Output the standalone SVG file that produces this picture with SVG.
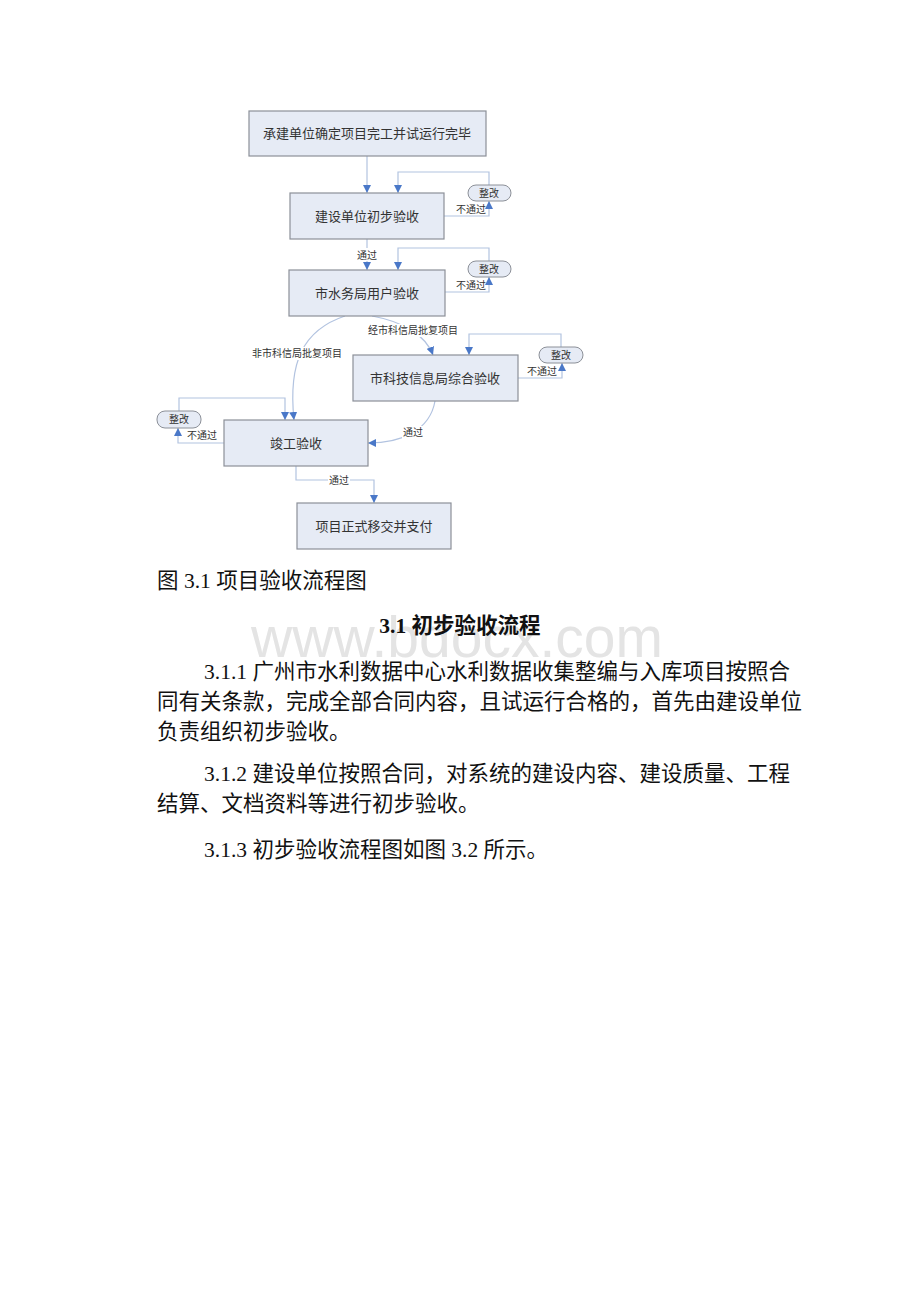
<svg xmlns="http://www.w3.org/2000/svg" width="920" height="1302" viewBox="0 0 920 1302">
<defs>
<marker id="arr" viewBox="0 0 10 10" refX="10" refY="5" markerWidth="8" markerHeight="8" markerUnits="userSpaceOnUse" orient="auto">
<path d="M0,0 L10,5 L0,10 z" fill="#4a78c8"/>
</marker>
</defs>
<style>
.box{fill:#e6ebf5;stroke:#8c9098;stroke-width:1.2}
.pill{fill:#e6ebf5;stroke:#8c9098;stroke-width:1}
.bt{font-family:"Liberation Serif","Noto Sans CJK SC",serif;font-size:13px;fill:#333;text-anchor:middle;dominant-baseline:central}
.sm{font-family:"Liberation Serif","Noto Sans CJK SC",serif;font-size:10px;fill:#333;text-anchor:middle;dominant-baseline:central}
.ln{fill:none;stroke:#b2c3e0;stroke-width:1.2}
.lbg{fill:#ffffff}
.body{font-family:"Liberation Serif","Noto Sans CJK SC",serif;font-size:21.5px;fill:#111}
</style>
<rect width="920" height="1302" fill="#ffffff"/>

<g id="connectors">
<path class="ln" d="M367,156 V193" marker-end="url(#arr)"/>
<path class="ln" d="M444,216 H489 V201" marker-end="url(#arr)"/>
<path class="ln" d="M489,185 V172 H398 V193" marker-end="url(#arr)"/>
<path class="ln" d="M367,239 V270" marker-end="url(#arr)"/>
<path class="ln" d="M445,292 H489 V277" marker-end="url(#arr)"/>
<path class="ln" d="M489,261 V248 H398 V270" marker-end="url(#arr)"/>
<path class="ln" d="M372,316 C405,322 426,336 433,355" marker-end="url(#arr)"/>
<path class="ln" d="M345,316 C303,330 288,362 294,420" marker-end="url(#arr)"/>
<path class="ln" d="M518,378 H562 V363" marker-end="url(#arr)"/>
<path class="ln" d="M561,347 V334 H469 V355" marker-end="url(#arr)"/>
<path class="ln" d="M435,401 C430,430 402,443 368,443" marker-end="url(#arr)"/>
<path class="ln" d="M224,443 H178 V428" marker-end="url(#arr)"/>
<path class="ln" d="M179,411 V398 H285 V420" marker-end="url(#arr)"/>
<path class="ln" d="M296,466 V480 H374 V503" marker-end="url(#arr)"/>
<rect class="lbg" x="356" y="248" width="22" height="13"/>
<text class="sm" x="367" y="255">通过</text>
<text class="sm" x="471" y="209">不通过</text>
<text class="sm" x="471" y="285">不通过</text>
<rect class="lbg" x="366" y="324" width="94" height="13"/>
<text class="sm" x="413" y="330">经市科信局批复项目</text>
<rect class="lbg" x="250" y="347" width="94" height="13"/>
<text class="sm" x="297" y="353">非市科信局批复项目</text>
<text class="sm" x="542" y="371">不通过</text>
<rect class="lbg" x="402" y="426" width="22" height="13"/>
<text class="sm" x="413" y="432">通过</text>
<text class="sm" x="202" y="435">不通过</text>
<rect class="lbg" x="328" y="474" width="22" height="13"/>
<text class="sm" x="339" y="480">通过</text>
</g>

<g id="n1"><rect class="box" x="249" y="111" width="237" height="45"/><text class="bt" x="367" y="133">承建单位确定项目完工并试运行完毕</text></g>
<g id="n2"><rect class="box" x="290" y="193" width="154" height="46"/><text class="bt" x="367" y="216">建设单位初步验收</text></g>
<g id="r1"><rect class="pill" x="468" y="185" width="43" height="16" rx="8"/><text class="sm" x="489" y="193">整改</text></g>
<g id="n3"><rect class="box" x="289" y="270" width="156" height="46"/><text class="bt" x="367" y="293">市水务局用户验收</text></g>
<g id="r2"><rect class="pill" x="468" y="261" width="43" height="16" rx="8"/><text class="sm" x="489" y="269">整改</text></g>
<g id="n4"><rect class="box" x="353" y="355" width="165" height="46"/><text class="bt" x="435" y="378">市科技信息局综合验收</text></g>
<g id="r3"><rect class="pill" x="539" y="347" width="44" height="16" rx="8"/><text class="sm" x="561" y="355">整改</text></g>
<g id="n5"><rect class="box" x="224" y="420" width="144" height="46"/><text class="bt" x="296" y="443">竣工验收</text></g>
<g id="r4"><rect class="pill" x="157" y="411" width="44" height="17" rx="8"/><text class="sm" x="179" y="419">整改</text></g>
<g id="n6"><rect class="box" x="297" y="503" width="154" height="46"/><text class="bt" x="374" y="526">项目正式移交并支付</text></g>

<g id="text">
<text x="157" y="588" class="body">图 3.1 项目验收流程图</text>
<text x="457" y="657" font-family="Liberation Sans, Arial, sans-serif" font-size="57" fill="#e4e4e4" text-anchor="middle">www.bdocx.com</text>
<text x="460" y="633" class="body" font-weight="bold" text-anchor="middle">3.1 初步验收流程</text>
<text x="204" y="679" class="body">3.1.1 广州市水利数据中心水利数据收集整编与入库项目按照合</text>
<text x="157" y="709" class="body">同有关条款，完成全部合同内容，且试运行合格的，首先由建设单位</text>
<text x="157" y="739" class="body">负责组织初步验收。</text>
<text x="204" y="781" class="body">3.1.2 建设单位按照合同，对系统的建设内容、建设质量、工程</text>
<text x="157" y="811" class="body">结算、文档资料等进行初步验收。</text>
<text x="204" y="857" class="body">3.1.3 初步验收流程图如图 3.2 所示。</text>
</g>
</svg>
